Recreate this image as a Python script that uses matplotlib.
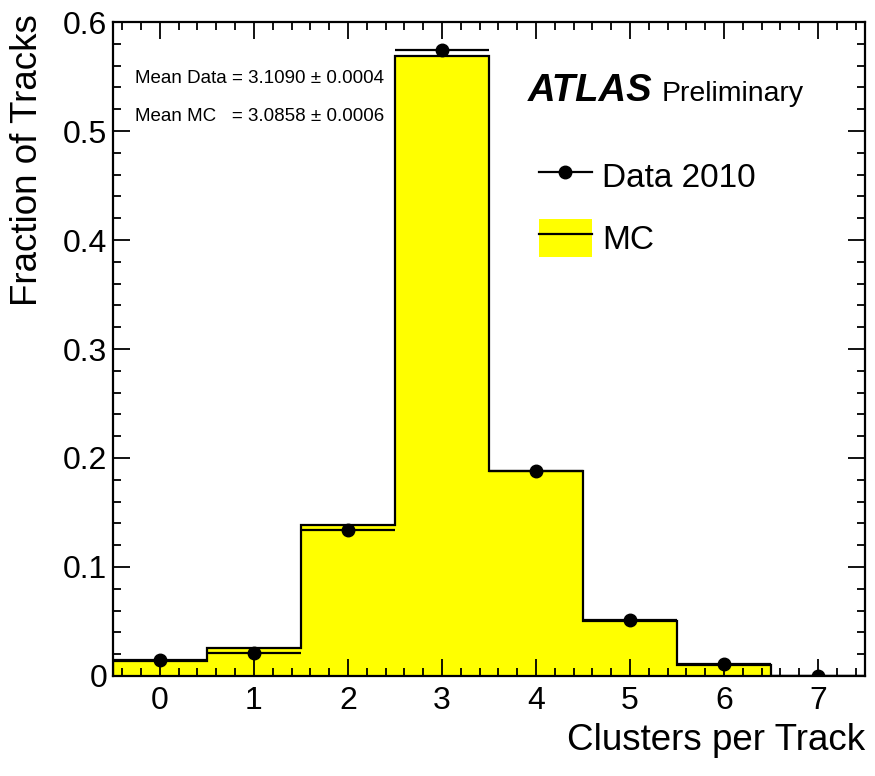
import numpy as np
import matplotlib
matplotlib.use('Agg')
import matplotlib.pyplot as plt
from matplotlib.lines import Line2D
from matplotlib.patches import Patch
from matplotlib.ticker import MultipleLocator

plt.rcParams['font.family'] = ['Liberation Sans', 'DejaVu Sans']

# clusters per track, one bin per integer value
bin_centres = [0, 1, 2, 3, 4, 5, 6, 7]
bin_edges   = [-0.5, 0.5, 1.5, 2.5, 3.5, 4.5, 5.5, 6.5, 7.5]
frac_data   = [0.0145, 0.021, 0.134, 0.574, 0.188, 0.051, 0.011, 0.0003]
frac_mc     = [0.014, 0.0257, 0.1385, 0.569, 0.188, 0.0505, 0.010, 0.0]

mean_data = "Mean Data = 3.1090 \u00b1 0.0004"
mean_mc   = "Mean MC   = 3.0858 \u00b1 0.0006"


def main():
    fig = plt.figure(figsize=(8.75, 7.76), dpi=100)
    ax = fig.add_axes([0.129, 0.1289, 0.8596, 0.8427])

    # MC histogram: yellow fill plus black outline
    ax.stairs(frac_mc, bin_edges, fill=True, color='#ffff00', lw=0)
    ax.stairs(frac_mc, bin_edges, color='black', lw=1.6, baseline=0)

    # data points with bin-width bars
    ax.errorbar(bin_centres, frac_data, xerr=0.5, fmt='o', color='black',
                ms=9, elinewidth=1.6, capsize=0, zorder=5, clip_on=True)

    ax.set_xlim(-0.5, 7.5)
    ax.set_ylim(0, 0.6)
    ax.xaxis.set_major_locator(MultipleLocator(1))
    ax.xaxis.set_minor_locator(MultipleLocator(0.2))
    ax.yaxis.set_minor_locator(MultipleLocator(0.02))
    ax.set_yticks([0, 0.1, 0.2, 0.3, 0.4, 0.5, 0.6])
    ax.set_yticklabels(['0', '0.1', '0.2', '0.3', '0.4', '0.5', '0.6'])

    ax.tick_params(which='both', direction='in', top=True, right=True,
                   width=1.3, colors='black', labelsize=23)
    ax.tick_params(which='major', length=12)
    ax.tick_params(which='minor', length=6)
    ax.tick_params(axis='x', pad=7)
    ax.tick_params(axis='y', pad=4)
    for sp in ax.spines.values():
        sp.set_linewidth(1.6)

    ax.set_xlabel('Clusters per Track', fontsize=26.5, loc='right')
    ax.xaxis.set_label_coords(1.0, -0.072)
    ax.set_ylabel('Fraction of Tracks', fontsize=26.5, loc='top')
    ax.yaxis.set_label_coords(-0.09, 1.012)

    ax.text(0.029, 0.914, mean_data, transform=ax.transAxes, fontsize=13.5,
            va='center', ha='left')
    ax.text(0.029, 0.855, mean_mc, transform=ax.transAxes, fontsize=13.5,
            va='center', ha='left')

    ax.text(0.551, 0.879, 'ATLAS', transform=ax.transAxes, fontsize=27.5,
            fontweight='bold', fontstyle='italic', va='baseline')
    ax.text(0.730, 0.879, 'Preliminary', transform=ax.transAxes, fontsize=20.5,
            va='baseline')

    h_data = Line2D([], [], color='black', marker='o', ms=9, lw=1.6)
    h_mc = (Patch(facecolor='#ffff00', edgecolor='none'),
            Line2D([], [], color='black', lw=1.6))
    ax.legend([h_data, h_mc], ['Data 2010', 'MC'], loc='upper left',
              bbox_to_anchor=(0.566, 0.794), frameon=False, fontsize=24,
              handlelength=1.6, handleheight=1.4, labelspacing=0.7,
              handletextpad=0.3, borderaxespad=0, borderpad=0)

    fig.savefig('out.png', dpi=100)


if __name__ == "__main__":
    main()
